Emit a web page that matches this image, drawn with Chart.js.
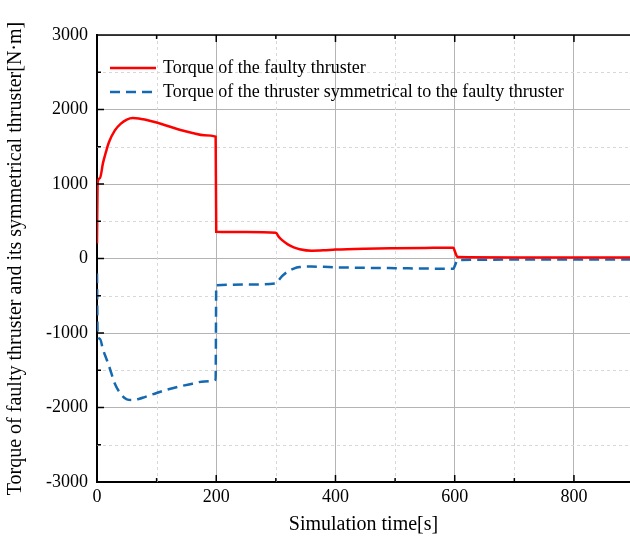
<!DOCTYPE html>
<html>
<head>
<meta charset="utf-8">
<script src="https://cdn.jsdelivr.net/npm/chart.js@4"></script>
<style>
  body { margin: 0; background: #fff; }
  #wrap { width: 630px; height: 549px; }
</style>
</head>
<body>
<div id="wrap"><canvas id="chart1"></canvas></div>
<script>
// simulation time [s]
const times = [0, 1, 5, 10, 15, 20, 30, 40, 50, 60, 70, 80, 100, 120, 140, 160, 180, 199,
  200, 250, 300, 305, 310, 320, 330, 340, 360, 380, 400, 450, 500, 550, 598,
  600, 605, 700, 800, 894];
// torque of the faulty thruster [N·m]
const faulty = [200, 1020, 1080, 1280, 1430, 1560, 1720, 1810, 1865, 1885, 1880, 1865, 1825, 1775, 1725, 1685, 1655, 1635,
  360, 355, 345, 290, 250, 190, 150, 125, 105, 110, 120, 132, 138, 142, 145,
  100, 20, 15, 15, 15];
// torque of the symmetrical thruster [N·m]
const symmetric = [-200, -1000, -1080, -1220, -1330, -1440, -1680, -1820, -1890, -1900, -1885, -1860, -1805, -1755, -1715, -1680, -1650, -1625,
  -360, -350, -335, -290, -240, -175, -135, -115, -108, -112, -118, -125, -130, -135, -138,
  -100, -20, -15, -15, -15];
const legendLabels = ['Torque of the faulty thruster', 'Torque of the thruster symmetrical to the faulty thruster'];

const serif = '"Liberation Serif", "Times New Roman", serif';

const extras = {
  id: 'extras',
  beforeDatasetsDraw(chart) {
    const { ctx, chartArea: a, scales: { x, y } } = chart;
    ctx.save();
    ctx.strokeStyle = '#d8d8d8';
    ctx.lineWidth = 1;
    ctx.setLineDash([3, 3]);
    [100, 300, 500, 700].forEach(v => {
      const px = Math.round(x.getPixelForValue(v)) + 0.5;
      ctx.beginPath(); ctx.moveTo(px, a.top); ctx.lineTo(px, a.bottom); ctx.stroke();
    });
    [-2500, -1500, -500, 500, 1500, 2500].forEach(v => {
      const py = Math.round(y.getPixelForValue(v)) + 0.5;
      ctx.beginPath(); ctx.moveTo(a.left, py); ctx.lineTo(a.right, py); ctx.stroke();
    });
    ctx.restore();
  },
  afterDatasetsDraw(chart) {
    const { ctx, chartArea: a, scales: { x, y } } = chart;
    ctx.save();
    // top border
    ctx.strokeStyle = '#000';
    ctx.lineWidth = 1.5;
    ctx.beginPath(); ctx.moveTo(a.left, a.top); ctx.lineTo(a.right, a.top); ctx.stroke();
    // inward ticks
    for (let v = 100; v < 894; v += 100) {
      const px = x.getPixelForValue(v);
      const len = v % 200 === 0 ? 7 : 4;
      ctx.beginPath(); ctx.moveTo(px, a.bottom); ctx.lineTo(px, a.bottom - len); ctx.stroke();
      ctx.beginPath(); ctx.moveTo(px, a.top); ctx.lineTo(px, a.top + len); ctx.stroke();
    }
    for (let v = -2500; v < 3000; v += 500) {
      const py = y.getPixelForValue(v);
      const len = v % 1000 === 0 ? 7 : 4;
      ctx.beginPath(); ctx.moveTo(a.left, py); ctx.lineTo(a.left + len, py); ctx.stroke();
    }
    // legend
    ctx.font = '18px ' + serif;
    ctx.textBaseline = 'middle';
    ctx.fillStyle = '#000';
    chart.data.datasets.forEach((ds, i) => {
      const ly = 68 + i * 24;
      ctx.strokeStyle = ds.borderColor;
      ctx.lineWidth = ds.borderWidth;
      ctx.setLineDash(ds.borderDash || []);
      ctx.beginPath(); ctx.moveTo(110, ly); ctx.lineTo(156, ly); ctx.stroke();
      ctx.fillText(legendLabels[i], 163, ly);
    });
    ctx.restore();
  }
};

new Chart(document.getElementById('chart1'), {
  type: 'line',
  data: {
    datasets: [{
      label: legendLabels[0],
      data: times.map((t, i) => ({ x: t, y: faulty[i] })),
      borderColor: '#ff0000',
      borderWidth: 2.5,
      pointRadius: 0,
      cubicInterpolationMode: 'monotone',
      fill: false
    }, {
      label: legendLabels[1],
      data: times.map((t, i) => ({ x: t, y: symmetric[i] })),
      borderColor: '#1469b0',
      borderWidth: 2.5,
      borderDash: [10, 6],
      pointRadius: 0,
      cubicInterpolationMode: 'monotone',
      fill: false
    }]
  },
  options: {
    responsive: true,
    maintainAspectRatio: false,
    animation: false,
    layout: { padding: { top: 35, right: 0, left: 0, bottom: 0 } },
    plugins: { legend: { display: false }, tooltip: { enabled: false } },
    scales: {
      x: {
        type: 'linear',
        min: 0,
        max: 894,
        afterBuildTicks: s => { s.ticks = s.ticks.filter(t => t.value % 200 === 0); },
        afterFit: s => { s.height = 67; },
        ticks: { stepSize: 200, color: '#000', font: { family: serif, size: 18 }, padding: 4, maxRotation: 0, callback: v => String(v) },
        grid: { color: '#b4b4b4', lineWidth: 1, drawTicks: false },
        border: { color: '#000', width: 2 },
        title: { display: true, text: 'Simulation time[s]', color: '#000', font: { family: serif, size: 20 }, padding: { top: 0, bottom: 12 } }
      },
      y: {
        min: -3000,
        max: 3000,
        afterFit: s => { s.width = 97; },
        ticks: { stepSize: 1000, color: '#000', font: { family: serif, size: 18 }, padding: 9, callback: v => String(v) },
        grid: { color: '#b4b4b4', lineWidth: 1, drawTicks: false },
        border: { color: '#000', width: 2 },
        title: { display: true, text: 'Torque of faulty thruster and its symmetrical thruster[N·m]', color: '#000', font: { family: serif, size: 20 }, padding: { top: 4, bottom: 2 } }
      }
    }
  },
  plugins: [extras]
});
</script>
</body>
</html>
